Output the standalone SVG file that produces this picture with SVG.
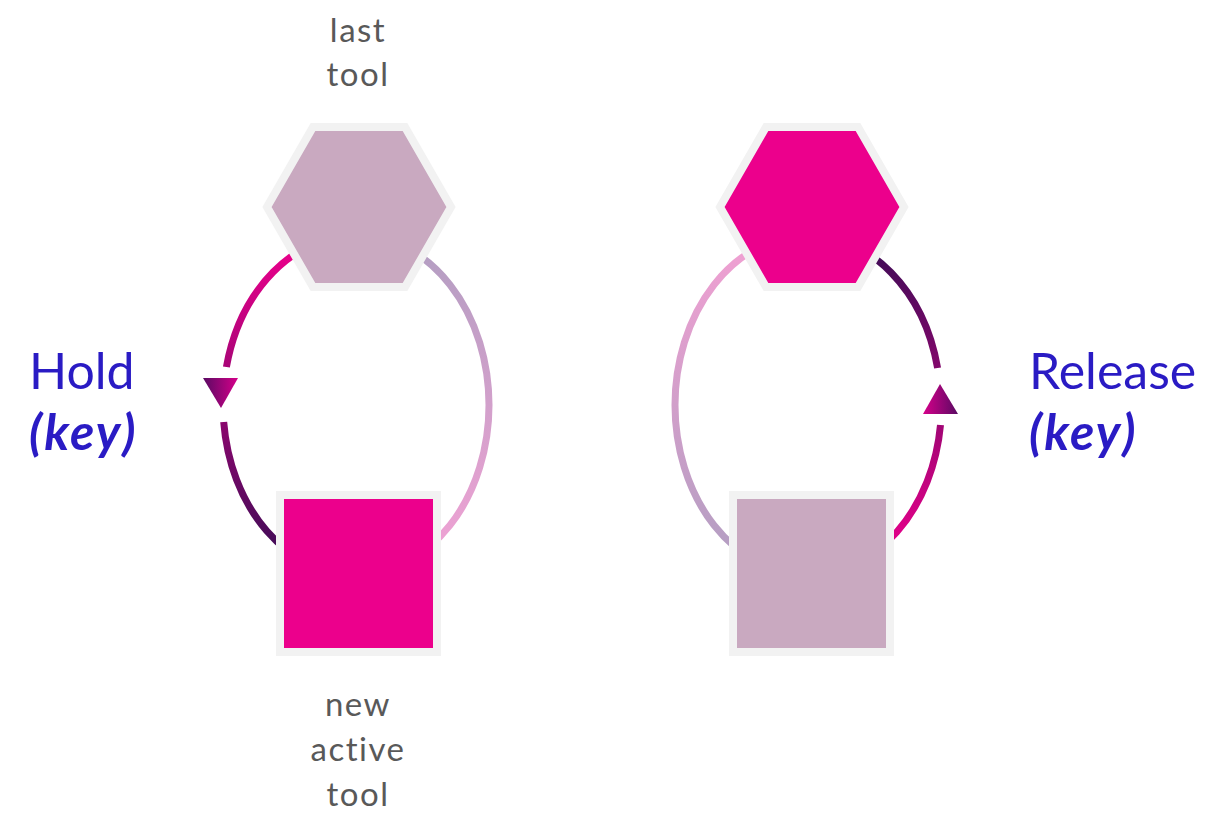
<svg xmlns="http://www.w3.org/2000/svg" width="1209" height="813" viewBox="0 0 1209 813">
<style>
.lbl{font-family:Lato,"Open Sans","Liberation Sans",sans-serif;font-size:33px;letter-spacing:1.5px;fill:#595959;text-anchor:middle}
.act{font-family:Lato,"Open Sans","Liberation Sans",sans-serif;font-size:50px;fill:#2A1BC4}
.key{font-family:Lato,"Open Sans","Liberation Sans",sans-serif;font-size:50px;letter-spacing:2px;fill:#2A1BC4;font-weight:bold;font-style:italic}
.arc{fill:none;stroke-width:7}
.node{stroke:#F2F2F2;stroke-width:8}
.lilac{fill:#C9A9C0}
.pink{fill:#EC008C}
</style>
<defs>
<linearGradient id="gMagDark" gradientUnits="userSpaceOnUse" x1="0" y1="245" x2="0" y2="560"><stop offset="0" stop-color="#EC008C"/><stop offset="1" stop-color="#3E0C56"/></linearGradient>
<linearGradient id="gLavPink" gradientUnits="userSpaceOnUse" x1="0" y1="245" x2="0" y2="560"><stop offset="0" stop-color="#B39EC2"/><stop offset="1" stop-color="#F0A2D4"/></linearGradient>
<linearGradient id="gPinkLav" gradientUnits="userSpaceOnUse" x1="0" y1="245" x2="0" y2="560"><stop offset="0" stop-color="#F0A0D2"/><stop offset="1" stop-color="#B39EC2"/></linearGradient>
<linearGradient id="gDarkMag" gradientUnits="userSpaceOnUse" x1="0" y1="245" x2="0" y2="560"><stop offset="0" stop-color="#3E0C56"/><stop offset="1" stop-color="#EC008C"/></linearGradient>
<linearGradient id="gArrL" x1="0" y1="0" x2="1" y2="0"><stop offset="0" stop-color="#5A0A63"/><stop offset="1" stop-color="#D6008A"/></linearGradient>
<linearGradient id="gArrR" x1="0" y1="0" x2="1" y2="0"><stop offset="0" stop-color="#D6008A"/><stop offset="1" stop-color="#5A0A63"/></linearGradient>
</defs>
<g id="connectors">
<path class="arc" stroke="url(#gMagDark)" d="M356,235 A133,170 0 0 0 226.4,367"/>
<path class="arc" stroke="url(#gMagDark)" d="M223.7,422 A133,170 0 0 0 356,575"/>
<path class="arc" stroke="url(#gLavPink)" d="M356,235 A133,170 0 0 1 356,575"/>
<polygon fill="url(#gArrL)" points="203,378 238,378 221,408"/>
<path class="arc" stroke="url(#gPinkLav)" d="M808,235 A133,170 0 0 0 808,575"/>
<path class="arc" stroke="url(#gDarkMag)" d="M808,235 A133,170 0 0 1 937.6,368"/>
<path class="arc" stroke="url(#gDarkMag)" d="M940.5,425 A133,170 0 0 1 808,575"/>
<polygon fill="url(#gArrR)" points="923,414 958,414 940,384"/>
</g>
<g id="last-tool-left">
<polygon class="node lilac" points="267,207 313,127 405,127 451,207 405,287 313,287"/>
</g>
<g id="new-tool-left">
<rect class="node pink" x="280" y="495" width="157" height="157"/>
</g>
<g id="last-tool-right">
<polygon class="node pink" points="720,207 766,127 858,127 904,207 858,287 766,287"/>
</g>
<g id="new-tool-right">
<rect class="node lilac" x="733" y="495" width="157" height="157"/>
</g>
<g id="labels">
<text class="lbl" x="358" y="42">last</text>
<text class="lbl" x="358" y="86">tool</text>
<text class="lbl" x="358" y="716">new</text>
<text class="lbl" x="358" y="761">active</text>
<text class="lbl" x="358" y="806">tool</text>
<text class="act" x="29" y="389">Hold</text>
<text class="key" x="29" y="450">(key)</text>
<text class="act" x="1029" y="389">Release</text>
<text class="key" x="1029" y="450">(key)</text>
</g>
</svg>
